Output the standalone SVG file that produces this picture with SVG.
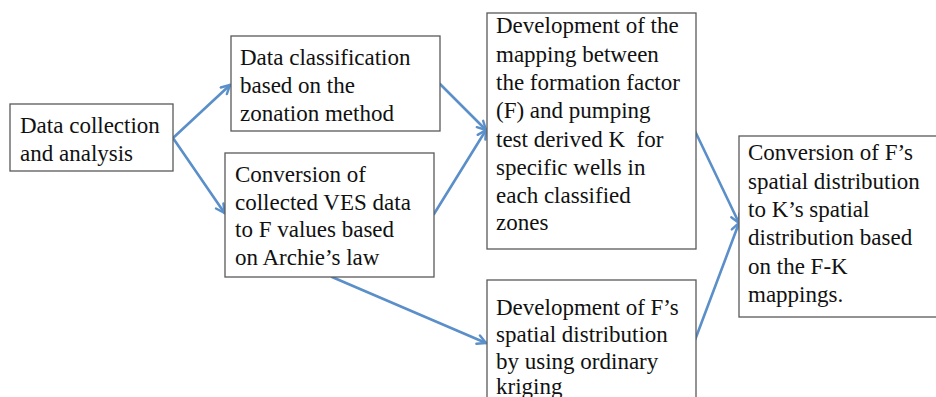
<svg xmlns="http://www.w3.org/2000/svg" width="936" height="397" viewBox="0 0 936 397">
<defs>
<style>
.box{fill:#fff;stroke:#595959;stroke-width:1.3}
.t{font-family:"Liberation Serif","Times New Roman",serif;font-size:23px;fill:#111}
.c{fill:none;stroke:#5b8fc9;stroke-width:2.6;stroke-linecap:round}
</style>
<marker id="ah" viewBox="0 0 12 12" refX="10" refY="6" markerWidth="12" markerHeight="12" markerUnits="userSpaceOnUse" orient="auto">
<path d="M1.5,1.5 L10,6 L1.5,10.5" fill="none" stroke="#5b8fc9" stroke-width="2.4" stroke-linecap="round" stroke-linejoin="round"/>
</marker>
</defs>
<rect width="936" height="397" fill="#fff"/>
<g id="connectors">
<line class="c" x1="173" y1="138" x2="230" y2="85" marker-end="url(#ah)"/>
<line class="c" x1="173" y1="138" x2="224.5" y2="213" marker-end="url(#ah)"/>
<line class="c" x1="440" y1="84" x2="486" y2="130" marker-end="url(#ah)"/>
<line class="c" x1="434" y1="214" x2="486" y2="130" marker-end="url(#ah)"/>
<line class="c" x1="332" y1="277" x2="486" y2="343" marker-end="url(#ah)"/>
<line class="c" x1="695" y1="131" x2="739" y2="223" marker-end="url(#ah)"/>
<line class="c" x1="695" y1="340" x2="739" y2="223" marker-end="url(#ah)"/>
</g>
<g id="n1">
<rect class="box" x="10" y="104" width="163" height="67"/>
<text class="t" x="20" y="133">Data collection</text>
<text class="t" x="20" y="161">and analysis</text>
</g>
<g id="n2">
<rect class="box" x="231" y="36" width="209" height="95"/>
<text class="t" x="240" y="65">Data classification</text>
<text class="t" x="240" y="93">based on the</text>
<text class="t" x="240" y="121">zonation method</text>
</g>
<g id="n3">
<rect class="box" x="225" y="153" width="209" height="124"/>
<text class="t" x="235" y="182">Conversion of</text>
<text class="t" x="235" y="209.5">collected VES data</text>
<text class="t" x="235" y="237">to F values based</text>
<text class="t" x="235" y="265">on Archie’s law</text>
</g>
<g id="n4">
<rect class="box" x="487" y="13" width="209" height="236"/>
<text class="t" x="496" y="33">Development of the</text>
<text class="t" x="496" y="61.5">mapping between</text>
<text class="t" x="496" y="90">the formation factor</text>
<text class="t" x="496" y="118">(F) and pumping</text>
<text class="t" x="496" y="146.5" style="white-space:pre">test derived K  for</text>
<text class="t" x="496" y="175">specific wells in</text>
<text class="t" x="496" y="203">each classified</text>
<text class="t" x="496" y="230">zones</text>
</g>
<g id="n5">
<rect class="box" x="487" y="280" width="209" height="130"/>
<text class="t" x="496" y="315">Development of F’s</text>
<text class="t" x="496" y="342">spatial distribution</text>
<text class="t" x="496" y="368.5">by using ordinary</text>
<text class="t" x="496" y="394">kriging</text>
</g>
<g id="n6">
<rect class="box" x="739" y="136" width="210" height="181"/>
<text class="t" x="748" y="160">Conversion of F’s</text>
<text class="t" x="748" y="188.5">spatial distribution</text>
<text class="t" x="748" y="216.5">to K’s spatial</text>
<text class="t" x="748" y="245">distribution based</text>
<text class="t" x="748" y="273.5">on the F-K</text>
<text class="t" x="748" y="301.5">mappings.</text>
</g>
</svg>
